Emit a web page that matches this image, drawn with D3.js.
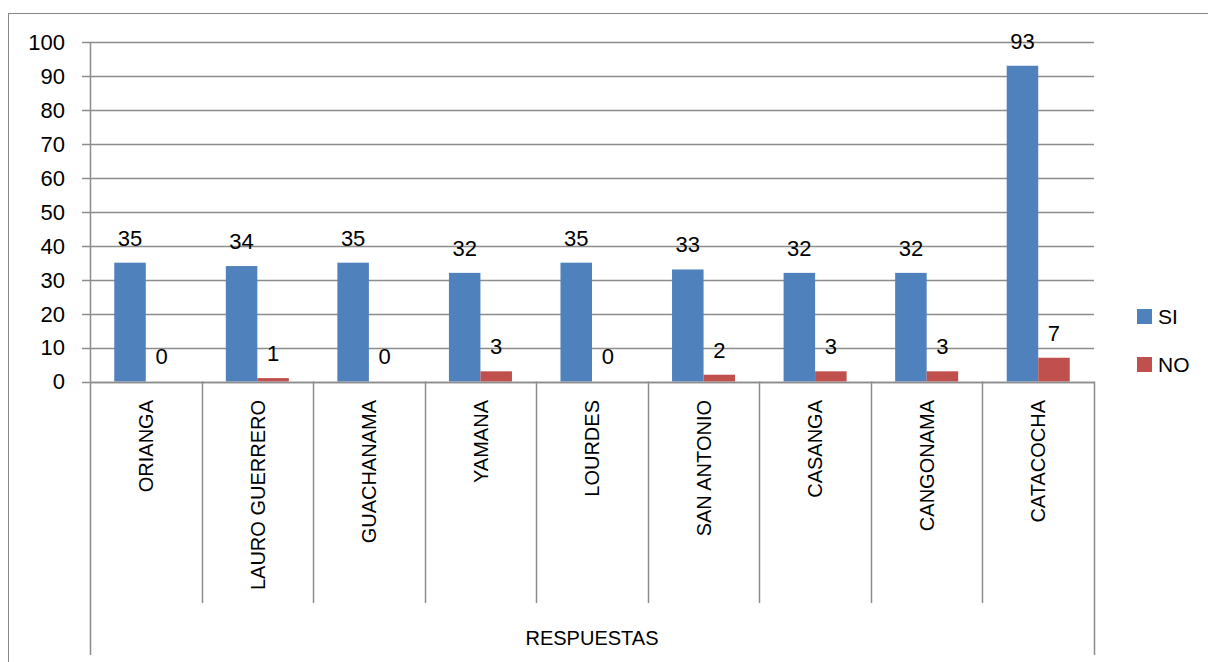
<!DOCTYPE html>
<html>
<head>
<meta charset="utf-8">
<script src="https://cdn.jsdelivr.net/npm/d3@7"></script>
<style>
  body { margin: 0; background: #fff; }
  text { font-family: "Liberation Sans", Arial, sans-serif; fill: #000; }
</style>
</head>
<body>
<div id="chart"></div>
<script>
var categories = ["ORIANGA", "LAURO GUERRERO", "GUACHANAMA", "YAMANA", "LOURDES",
                  "SAN ANTONIO", "CASANGA", "CANGONAMA", "CATACOCHA"];
var siValues = [35, 34, 35, 32, 35, 33, 32, 32, 93];
var noValues = [0, 1, 0, 3, 0, 2, 3, 3, 7];
var seriesNames = ["SI", "NO"];
var seriesColors = ["#4F81BD", "#C0504D"];
var yTicks = [0, 10, 20, 30, 40, 50, 60, 70, 80, 90, 100];
var axisTitle = "RESPUESTAS";

var width = 1208, height = 662;
var plot = {left: 90, right: 1094, top: 42, bottom: 381.5};

var svg = d3.select("#chart").append("svg")
    .attr("width", width)
    .attr("height", height);

// outer chart frame
svg.append("rect")
    .attr("x", 8.5).attr("y", 13.5)
    .attr("width", 1220).attr("height", 700)
    .attr("fill", "none")
    .attr("stroke", "#888")
    .attr("stroke-width", 1);

var x = d3.scaleBand()
    .domain(categories)
    .range([plot.left, plot.right])
    .paddingInner(0)
    .paddingOuter(0);

var x1 = d3.scaleBand()
    .domain(seriesNames)
    .range([0, x.bandwidth()])
    .paddingOuter(0.77)
    .paddingInner(0);

var y = d3.scaleLinear()
    .domain([0, 100])
    .range([plot.bottom, plot.top]);

// gridlines + ticks
svg.append("g").selectAll("line")
    .data(yTicks)
    .enter().append("line")
      .attr("x1", plot.left - 8)
      .attr("x2", plot.right)
      .attr("y1", function(d) { return Math.round(y(d)) + 0.5; })
      .attr("y2", function(d) { return Math.round(y(d)) + 0.5; })
      .attr("stroke", "#8c8c8c")
      .attr("stroke-width", 1.5);

svg.append("g").selectAll("text")
    .data(yTicks)
    .enter().append("text")
      .attr("x", plot.left - 25)
      .attr("y", function(d) { return y(d); })
      .attr("dy", "0.36em")
      .attr("text-anchor", "end")
      .style("font-size", "22px")
      .text(function(d) { return d; });

// y axis line
svg.append("line")
    .attr("x1", plot.left + 0.5).attr("x2", plot.left + 0.5)
    .attr("y1", plot.top).attr("y2", plot.bottom)
    .attr("stroke", "#8c8c8c").attr("stroke-width", 1.5);

// category dividers below axis
var edges = categories.map(function(c) { return x(c); }).concat([plot.right]);
svg.append("g").selectAll("line")
    .data(edges)
    .enter().append("line")
      .attr("x1", function(d) { return Math.round(d) + 0.5; })
      .attr("x2", function(d) { return Math.round(d) + 0.5; })
      .attr("y1", plot.bottom)
      .attr("y2", function(d, i) { return (i == 0 || i == edges.length - 1) ? 655 : 603; })
      .attr("stroke", "#8c8c8c")
      .attr("stroke-width", 1.5);

// bars
var rows = categories.map(function(c, i) {
  return {cat: c, values: [siValues[i], noValues[i]]};
});

var group = svg.append("g").selectAll("g")
    .data(rows)
    .enter().append("g")
      .attr("transform", function(d) { return "translate(" + x(d.cat) + ",0)"; });

group.selectAll("rect")
    .data(function(d) { return d.values.map(function(v, j) { return {s: seriesNames[j], v: v, j: j}; }); })
    .enter().append("rect")
      .attr("x", function(d) { return x1(d.s); })
      .attr("width", x1.bandwidth())
      .attr("y", function(d) { return y(d.v); })
      .attr("height", function(d) { return y(0) - y(d.v); })
      .attr("fill", function(d) { return seriesColors[d.j]; });

group.selectAll("text")
    .data(function(d) { return d.values.map(function(v, j) { return {s: seriesNames[j], v: v}; }); })
    .enter().append("text")
      .attr("x", function(d) { return x1(d.s) + x1.bandwidth() / 2; })
      .attr("y", function(d) { return y(d.v) - 25; })
      .attr("dy", "0.36em")
      .attr("text-anchor", "middle")
      .style("font-size", "22px")
      .text(function(d) { return d.v; });

// x axis baseline
svg.append("line")
    .attr("x1", plot.left).attr("x2", plot.right)
    .attr("y1", Math.round(plot.bottom) + 0.5).attr("y2", Math.round(plot.bottom) + 0.5)
    .attr("stroke", "#8c8c8c").attr("stroke-width", 1.5);

// category labels, rotated
svg.append("g").selectAll("text")
    .data(categories)
    .enter().append("text")
      .attr("transform", function(d) {
        return "translate(" + (x(d) + x.bandwidth() / 2) + ",400) rotate(-90)";
      })
      .attr("dy", "0.36em")
      .attr("text-anchor", "end")
      .style("font-size", "20px")
      .text(function(d) { return d; });

svg.append("text")
    .attr("x", (plot.left + plot.right) / 2)
    .attr("y", 638)
    .attr("dy", "0.36em")
    .attr("text-anchor", "middle")
    .style("font-size", "20px")
    .text(axisTitle);

// legend
var legend = svg.append("g").selectAll("g")
    .data(seriesNames)
    .enter().append("g")
      .attr("transform", function(d, i) { return "translate(1137," + (309 + i * 48) + ")"; });

legend.append("rect")
    .attr("width", 15).attr("height", 15)
    .attr("fill", function(d, i) { return seriesColors[i]; });

legend.append("text")
    .attr("x", 21).attr("y", 7.5)
    .attr("dy", "0.36em")
    .style("font-size", "21px")
    .text(function(d) { return d; });
</script>
</body>
</html>
